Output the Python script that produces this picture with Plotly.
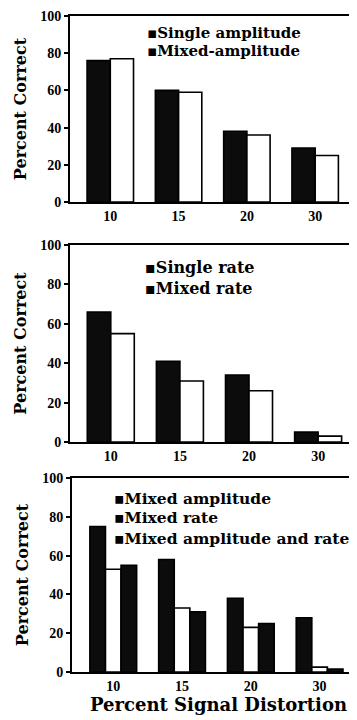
import plotly.graph_objects as go

# ---- data ----
categories = ["10", "15", "20", "30"]
single_amplitude = [76, 60, 38, 29]
mixed_amplitude_p1 = [77, 59, 36, 25]
single_rate = [66, 41, 34, 5]
mixed_rate_p2 = [55, 31, 26, 3]
mixed_amplitude_p3 = [75, 58, 38, 28]
mixed_rate_p3 = [53, 33, 23, 2.5]
mixed_amp_and_rate_p3 = [55, 31, 25, 1.5]
y_ticks = [0, 20, 40, 60, 80, 100]

W, H = 357, 720
OFF = 8  # page body margin
DARK = "#0c0c0c"
TICKFONT = "Liberation Serif"
TEXTFONT = "DejaVu Serif"

fig = go.Figure()

def bar(x, y, name, dark, axis):
    xa, ya = axis
    return go.Bar(
        x=x, y=y, name=name, xaxis=xa, yaxis=ya,
        marker=dict(color=DARK if dark else "white",
                    line=dict(color="black", width=1.6)),
        showlegend=False,
    )

fig.add_trace(bar(categories, single_amplitude, "Single amplitude", True, ("x", "y")))
fig.add_trace(bar(categories, mixed_amplitude_p1, "Mixed-amplitude", False, ("x", "y")))
fig.add_trace(bar(categories, single_rate, "Single rate", True, ("x2", "y2")))
fig.add_trace(bar(categories, mixed_rate_p2, "Mixed rate", False, ("x2", "y2")))
fig.add_trace(bar(categories, mixed_amplitude_p3, "Mixed amplitude", True, ("x3", "y3")))
fig.add_trace(bar(categories, mixed_rate_p3, "Mixed rate", False, ("x3", "y3")))
fig.add_trace(bar(categories, mixed_amp_and_rate_p3, "Mixed amplitude and rate", True, ("x3", "y3")))

def px_x(p):
    return min(1.0, (p - OFF) / W)

def px_y(p):
    return (H - (p - OFF)) / H

panels = [
    # (x left px, x right px, y top px, y bottom px, x range)  -- page pixels
    (70, 350, 16, 202, [-0.59, 3.51]),
    (70, 352, 245, 442, [-0.59, 3.49]),
    (72, 365, 478, 672, [-0.6, 3.66]),
]

tickfont = dict(family=TICKFONT, size=14, color="black", weight="bold")
for i, (xl, xr, yt, yb, xr_range) in enumerate(panels):
    sfx = "" if i == 0 else str(i + 1)
    fig.update_layout(**{
        "xaxis" + sfx: dict(
            domain=[px_x(xl), px_x(xr)], anchor="y" + sfx,
            type="category", range=xr_range, automargin=False,
            showline=True, linecolor="black", linewidth=2, mirror=True,
            ticks="", tickfont=tickfont, showgrid=False, zeroline=False,
            fixedrange=True,
        ),
        "yaxis" + sfx: dict(
            domain=[px_y(yb), px_y(yt)], anchor="x" + sfx,
            range=[0, 100], tickvals=y_ticks, automargin=False,
            ticklabeloverflow="allow",
            showline=True, linecolor="black", linewidth=2, mirror=True,
            ticks="outside", ticklen=4, tickwidth=1.5, tickcolor="black",
            tickfont=tickfont, showgrid=False, zeroline=False,
            title=dict(text="<b>Percent Correct</b>",
                       font=dict(family=TEXTFONT, size=16, color="black"), standoff=10),
        ),
    })

fig.update_layout(
    xaxis3_title=dict(text="<b>Percent Signal Distortion</b>",
                      font=dict(family=TEXTFONT, size=18, color="black"), standoff=0),
)

legend_items = [
    (145, 15, [(33, "▪Single amplitude"), (51, "▪Mixed-amplitude")]),
    (143, 16, [(267, "▪Single rate"), (289, "▪Mixed rate")]),
    (112, 15.5, [(498, "▪Mixed amplitude"), (518, "▪Mixed rate"), (538, "▪Mixed amplitude and rate")]),
]
for xpx, fsize, rows in legend_items:
    for ypx, txt in rows:
        fig.add_annotation(
            xref="paper", yref="paper", x=px_x(xpx), y=px_y(ypx),
            xanchor="left", yanchor="middle", showarrow=False,
            text="<b>" + txt + "</b>",
            font=dict(family=TEXTFONT, size=fsize, color="black"),
        )

fig.update_layout(
    width=W, height=H,
    margin=dict(l=0, r=0, t=0, b=0, autoexpand=False),
    paper_bgcolor="white", plot_bgcolor="white",
    barmode="group", bargap=0.32, bargroupgap=0,
    showlegend=False,
)

fig.write_html("out.html", config={"displayModeBar": False})
